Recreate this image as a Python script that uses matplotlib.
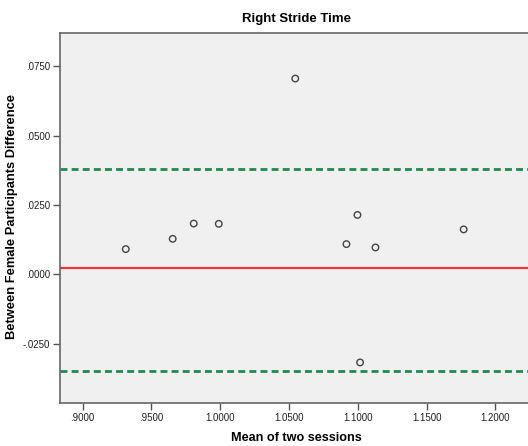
import numpy as np
import matplotlib as mpl
import matplotlib.pyplot as plt
from matplotlib.ticker import FuncFormatter

# Bland-Altman style plot: Right Stride Time (female participants)
mean_sessions = [0.9313, 0.9654, 0.9807, 0.9989, 1.0545, 1.0917, 1.0997, 1.1016, 1.1128, 1.1769]
difference = [0.0091, 0.0128, 0.0183, 0.0182, 0.0705, 0.0109, 0.0214, -0.0317, 0.0097, 0.0162]

mean_diff = 0.0022
upper_loa = 0.0379
lower_loa = -0.0349

x_ticks = [0.90, 0.95, 1.00, 1.05, 1.10, 1.15, 1.20]
y_ticks = [-0.025, 0.0, 0.025, 0.05, 0.075]


def spss_format(v, pos=None):
    s = '{:.4f}'.format(v)
    if s.startswith('0.'):
        s = s[1:]
    elif s.startswith('-0.'):
        s = '-' + s[2:]
    return s


mpl.rcParams['font.family'] = ['Liberation Sans', 'DejaVu Sans']

fig = plt.figure(figsize=(5.28, 4.46), dpi=100)
ax = fig.add_axes([60 / 528, 1 - 403 / 446, 1 - 60 / 528 + 0.01, 370 / 446])
ax.set_facecolor('#f0f0f0')

ax.axhline(upper_loa, color='#1f8a50', lw=2, ls=(0, (2.5, 1.5)))
ax.axhline(lower_loa, color='#1f8a50', lw=2, ls=(0, (2.5, 1.5)))
ax.axhline(mean_diff, color='#e8383a', lw=1.6)

ax.scatter(mean_sessions, difference, s=22, facecolors='none',
           edgecolors='#444444', linewidths=1.0, zorder=3)

ax.set_xlim(0.8835, 1.2275)
ax.set_ylim(-0.0463, 0.0869)
ax.set_xticks(x_ticks)
ax.set_yticks(y_ticks)
ax.xaxis.set_major_formatter(FuncFormatter(spss_format))
ax.yaxis.set_major_formatter(FuncFormatter(spss_format))
ax.tick_params(labelsize=7, length=5, width=1, color='#555555', labelcolor='#222222', pad=2)

for side in ['left', 'bottom', 'top']:
    ax.spines[side].set_color('#666666')
    ax.spines[side].set_linewidth(1.2)
ax.spines['right'].set_visible(False)

ax.set_title('Right Stride Time', fontsize=9.5, fontweight='bold', pad=8)
ax.set_xlabel('Mean of two sessions', fontsize=9.1, fontweight='bold', labelpad=7)
ax.set_ylabel('Between Female Participants Difference', fontsize=9.3, fontweight='bold')
ax.yaxis.set_label_coords(-42 / 473, 0.505)

fig.savefig('out.png', dpi=100)
